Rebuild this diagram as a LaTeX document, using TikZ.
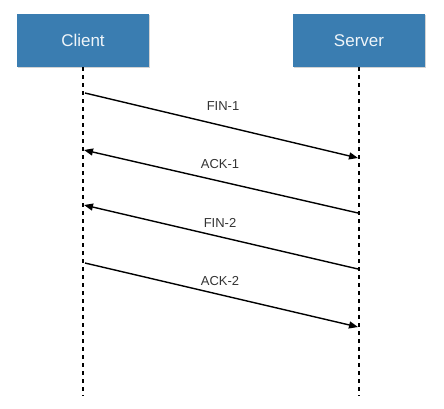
\documentclass[tikz,border=0pt]{standalone}
\usepackage{fontspec}
\setmainfont{Liberation Sans}
\usetikzlibrary{arrows.meta,shadows}
\definecolor{boxblue}{HTML}{3A7DB1}
\definecolor{labelgray}{HTML}{333333}
\begin{document}
\begin{tikzpicture}[x=1pt,y=-1pt,
  actor/.style={fill=boxblue,draw=none,minimum width=132pt,minimum height=53pt,inner sep=0pt,
    text=white!92!boxblue,font=\fontsize{17}{20}\selectfont,
    drop shadow={shadow xshift=0.8pt,shadow yshift=-1.2pt,opacity=0.35}},
  lifeline/.style={line width=1.8pt,dash pattern=on 4pt off 4pt},
  msg/.style={line width=1.4pt,-{Triangle[length=9pt,width=7pt]}},
  msglabel/.style={font=\fontsize{13}{15}\selectfont,text=labelgray,inner sep=0pt}]
\useasboundingbox (0,0) rectangle (444,408);
\node[actor] (client) at (83,40.5) {Client};
\node[actor] (server) at (359,40.5) {Server};
\coordinate (cend) at (83,396);
\coordinate (send) at (359,396);
\draw[lifeline] (client.south) -- (cend);
\draw[lifeline] (server.south) -- (send);
% messages
\coordinate (c1) at (85,93);  \coordinate (s1) at (358,158);
\coordinate (s2) at (358,213); \coordinate (c2) at (84,150);
\coordinate (s3) at (358,269); \coordinate (c3) at (84,205);
\coordinate (c4) at (85,263); \coordinate (s4) at (358,327);
\draw[msg] (c1) -- (s1);
\draw[msg] (s2) -- (c2);
\draw[msg] (s3) -- (c3);
\draw[msg] (c4) -- (s4);
\node[msglabel] (l1) at (223,106) {FIN-1};
\node[msglabel] (l2) at (220,164) {ACK-1};
\node[msglabel] (l3) at (220,223) {FIN-2};
\node[msglabel] (l4) at (220,281) {ACK-2};
\end{tikzpicture}
\end{document}
